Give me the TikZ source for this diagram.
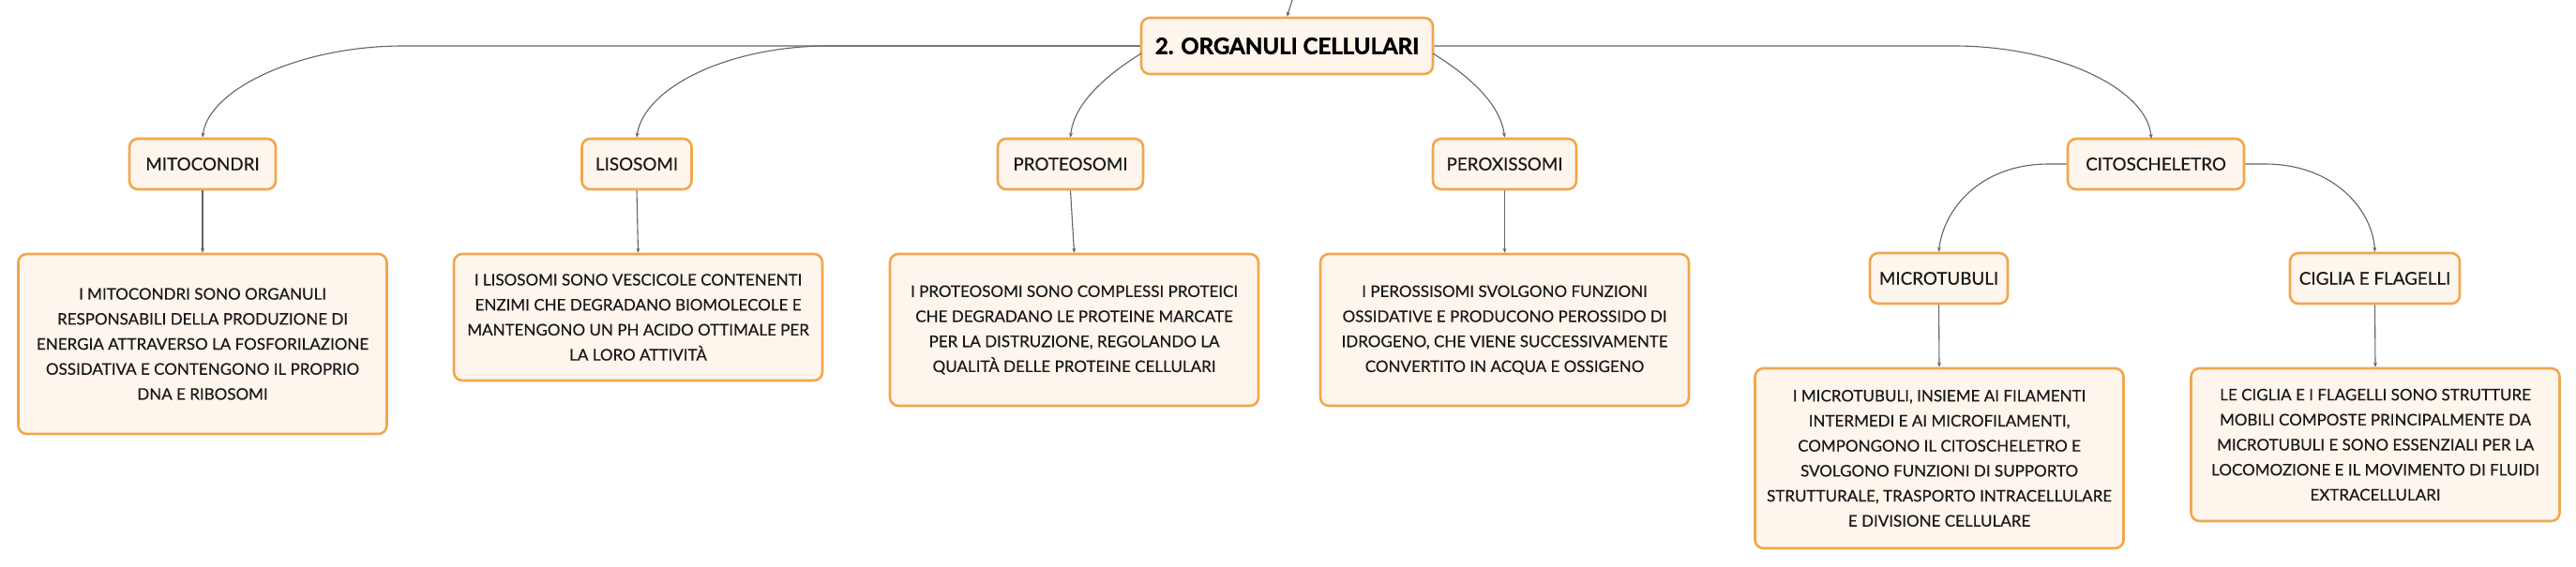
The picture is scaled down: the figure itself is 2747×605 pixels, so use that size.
\documentclass[tikz,border=0pt]{standalone}
\usepackage{fontspec}
\setmainfont{Lato}[FakeBold=0.4, BoldFeatures={FakeBold=1.6}]
\usetikzlibrary{arrows.meta}
\definecolor{boxborder}{RGB}{242,166,78}
\definecolor{boxfill}{RGB}{254,245,236}
\definecolor{linecol}{RGB}{100,100,100}
\definecolor{textcol}{RGB}{25,25,25}
\tikzset{
  base/.style={draw=boxborder, fill=boxfill, text=textcol, line width=2.6pt, rounded corners=9pt, inner sep=0pt, align=center, font=\fontsize{17}{26.7}\selectfont},
  topic/.style={base, minimum height=54pt, font=\fontsize{18.8}{22}\selectfont},
  desc/.style={base, minimum width=393pt},
  titlebox/.style={base, text=black, minimum width=311pt, minimum height=60pt, font=\fontsize{24}{28}\selectfont\bfseries},
  conn/.style={draw=linecol, line width=1.1pt, -{Stealth[length=5pt,width=4pt]}}
}
\begin{document}
\begin{tikzpicture}[x=1pt,y=-1pt]
\useasboundingbox (0,0) rectangle (2747,605);
% nodes
\node[titlebox] (title) at (1372.5,49) {2. ORGANULI CELLULARI};
\node[topic, minimum width=156pt] (mito) at (216,175) {MITOCONDRI};
\node[topic, minimum width=117pt] (liso) at (679,175) {LISOSOMI};
\node[topic, minimum width=155pt] (proteo) at (1141.5,175) {PROTEOSOMI};
\node[topic, minimum width=153pt] (perox) at (1604.5,175) {PEROXISSOMI};
\node[topic, minimum width=188pt] (cito) at (2299,175) {CITOSCHELETRO};
\node[topic, minimum width=147pt] (micro) at (2067.5,297) {MICROTUBULI};
\node[topic, minimum width=181pt] (ciglia) at (2532.5,297) {CIGLIA E FLAGELLI};
\node[desc, minimum height=192pt] (mitod) at (216,367) {I MITOCONDRI SONO ORGANULI\\RESPONSABILI DELLA PRODUZIONE DI\\ENERGIA ATTRAVERSO LA FOSFORILAZIONE\\OSSIDATIVA E CONTENGONO IL PROPRIO\\DNA E RIBOSOMI};
\node[desc, minimum height=135pt] (lisod) at (680.5,338.5) {I LISOSOMI SONO VESCICOLE CONTENENTI\\ENZIMI CHE DEGRADANO BIOMOLECOLE E\\MANTENGONO UN PH ACIDO OTTIMALE PER\\LA LORO ATTIVITÀ};
\node[desc, minimum height=162pt] (proteod) at (1145.5,352) {I PROTEOSOMI SONO COMPLESSI PROTEICI\\CHE DEGRADANO LE PROTEINE MARCATE\\PER LA DISTRUZIONE, REGOLANDO LA\\QUALITÀ DELLE PROTEINE CELLULARI};
\node[desc, minimum height=162pt] (peroxd) at (1604.5,352) {I PEROSSISOMI SVOLGONO FUNZIONI\\OSSIDATIVE E PRODUCONO PEROSSIDO DI\\IDROGENO, CHE VIENE SUCCESSIVAMENTE\\CONVERTITO IN ACQUA E OSSIGENO};
\node[desc, minimum height=192pt] (microd) at (2068,489) {I MICROTUBULI, INSIEME AI FILAMENTI\\INTERMEDI E AI MICROFILAMENTI,\\COMPONGONO IL CITOSCHELETRO E\\SVOLGONO FUNZIONI DI SUPPORTO\\STRUTTURALE, TRASPORTO INTRACELLULARE\\E DIVISIONE CELLULARE};
\node[desc, minimum height=163pt] (cigliad) at (2533,474.5) {LE CIGLIA E I FLAGELLI SONO STRUTTURE\\MOBILI COMPOSTE PRINCIPALMENTE DA\\MICROTUBULI E SONO ESSENZIALI PER LA\\LOCOMOZIONE E IL MOVIMENTO DI FLUIDI\\EXTRACELLULARI};
% coordinates
\coordinate (topin) at (1378,0);
\coordinate (tw) at (1217,57);
\coordinate (te) at (1528,57);
\coordinate (hm) at (430,49);
\coordinate (hl) at (884,49);
\coordinate (hc) at (2084,49);
\coordinate (cl) at (2185,175);
\coordinate (cr) at (2415,175);
% connectors
\draw[conn] (topin) -- (title.north);
\draw[conn] (title.west) -- (hm) .. controls (320,49) and (222,95) .. (mito.north);
\draw[conn] (title.west) -- (hl) .. controls (774,49) and (686,95) .. (liso.north);
\draw[conn] (tw) .. controls (1180,80) and (1145,110) .. (proteo.north);
\draw[conn] (te) .. controls (1565,80) and (1600,110) .. (perox.north);
\draw[conn] (title.east) -- (hc) .. controls (2194,49) and (2290,95) .. (2294,148);
\draw[conn] (cito.west) -- (cl) .. controls (2110,175) and (2072,225) .. (micro.north);
\draw[conn] (cito.east) -- (cr) .. controls (2490,175) and (2530,225) .. (ciglia.north);
\draw[conn] (mito.south) -- (mitod.north);
\draw[conn] (liso.south) -- (lisod.north);
\draw[conn] (proteo.south) -- (proteod.north);
\draw[conn] (perox.south) -- (peroxd.north);
\draw[conn] (micro.south) -- (microd.north);
\draw[conn] (ciglia.south) -- (cigliad.north);
\end{tikzpicture}
\end{document}
